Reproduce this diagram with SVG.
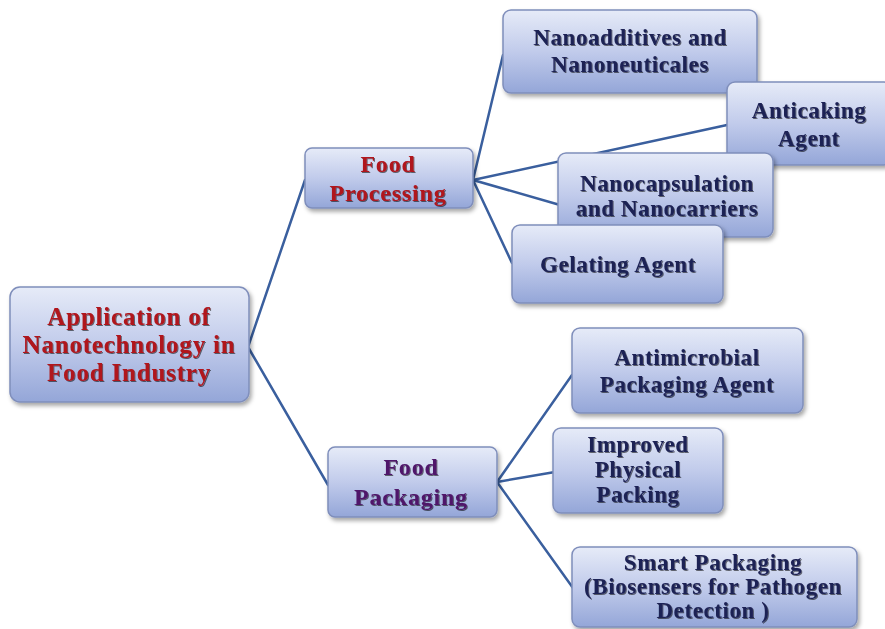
<svg xmlns="http://www.w3.org/2000/svg" width="885" height="629" viewBox="0 0 885 629">
  <defs>
    <linearGradient id="boxFill" x1="0" y1="0" x2="0" y2="1">
      <stop offset="0" stop-color="#e6ebf8"/>
      <stop offset="0.5" stop-color="#c1cbeb"/>
      <stop offset="1" stop-color="#94a6d8"/>
    </linearGradient>
    <filter id="boxShadow" x="-10%" y="-10%" width="125%" height="135%">
      <feDropShadow dx="2" dy="3" stdDeviation="2" flood-color="#000" flood-opacity="0.35"/>
    </filter>
    <filter id="textShadow" x="-5%" y="-20%" width="110%" height="140%">
      <feDropShadow dx="1" dy="1" stdDeviation="0.6" flood-color="#000" flood-opacity="0.55"/>
    </filter>
  </defs>
  <style>
    .box { fill: url(#boxFill); stroke: #7f8ebb; stroke-width: 1.5; filter: url(#boxShadow); }
    .conn { stroke: #3a5f9e; stroke-width: 2.5; fill: none; stroke-linecap: round; }
    text { font-family: "Liberation Serif", "Times New Roman", serif; font-weight: bold; text-anchor: middle; filter: url(#textShadow); letter-spacing: 0.6px; }
    .root { fill: #b0141c; font-size: 25px; letter-spacing: 0.8px; }
    .mid { fill: #b0141c; font-size: 24px; letter-spacing: 0.8px; }
    .pack { fill: #50176a; font-size: 24px; letter-spacing: 0.8px; }
    .leaf { fill: #1e2254; font-size: 23px; }
  </style>

  <rect width="885" height="629" fill="#ffffff"/>

  <g id="connectors">
    <polyline class="conn" points="305,180 248,347 328,485"/>
    <line class="conn" x1="473" y1="180" x2="503" y2="55"/>
    <line class="conn" x1="473" y1="180" x2="727" y2="125"/>
    <line class="conn" x1="473" y1="180" x2="560" y2="205"/>
    <line class="conn" x1="473" y1="180" x2="512" y2="263"/>
    <line class="conn" x1="497" y1="482" x2="572" y2="375"/>
    <line class="conn" x1="497" y1="482" x2="555" y2="472"/>
    <line class="conn" x1="497" y1="482" x2="573" y2="588"/>
  </g>

  <g id="root">
    <rect class="box" x="10" y="287" width="239" height="115" rx="10"/>
    <text class="root" x="129" y="325">Application of</text>
    <text class="root" x="129" y="353">Nanotechnology in</text>
    <text class="root" x="129" y="381">Food Industry</text>
  </g>

  <g id="food-processing">
    <rect class="box" x="305" y="148" width="168" height="60" rx="7"/>
    <text class="mid" x="388" y="172">Food</text>
    <text class="mid" x="388" y="201">Processing</text>
  </g>

  <g id="food-packaging">
    <rect class="box" x="328" y="447" width="169" height="70" rx="7"/>
    <text class="pack" x="411" y="475">Food</text>
    <text class="pack" x="411" y="505">Packaging</text>
  </g>

  <g id="nanoadditives">
    <rect class="box" x="503" y="10" width="254" height="83" rx="8"/>
    <text class="leaf" x="630" y="45">Nanoadditives and</text>
    <text class="leaf" x="630" y="72">Nanoneuticales</text>
  </g>

  <g id="anticaking">
    <rect class="box" x="727" y="82" width="165" height="83" rx="8"/>
    <text class="leaf" x="809" y="118">Anticaking</text>
    <text class="leaf" x="809" y="146">Agent</text>
  </g>

  <g id="nanocapsulation">
    <rect class="box" x="558" y="153" width="215" height="84" rx="8"/>
    <text class="leaf" x="667" y="191">Nanocapsulation</text>
    <text class="leaf" x="667" y="216">and Nanocarriers</text>
  </g>

  <g id="gelating">
    <rect class="box" x="512" y="225" width="211" height="78" rx="8"/>
    <text class="leaf" x="618" y="272">Gelating Agent</text>
  </g>

  <g id="antimicrobial">
    <rect class="box" x="572" y="328" width="231" height="85" rx="8"/>
    <text class="leaf" x="687" y="365">Antimicrobial</text>
    <text class="leaf" x="687" y="392">Packaging Agent</text>
  </g>

  <g id="improved-packing">
    <rect class="box" x="553" y="428" width="170" height="85" rx="8"/>
    <text class="leaf" x="638" y="452">Improved</text>
    <text class="leaf" x="638" y="477">Physical</text>
    <text class="leaf" x="638" y="502">Packing</text>
  </g>

  <g id="smart-packaging">
    <rect class="box" x="572" y="547" width="285" height="80" rx="8"/>
    <text class="leaf" x="713" y="570">Smart Packaging</text>
    <text class="leaf" x="713" y="594">(Biosensers for Pathogen</text>
    <text class="leaf" x="713" y="618">Detection )</text>
  </g>
</svg>
